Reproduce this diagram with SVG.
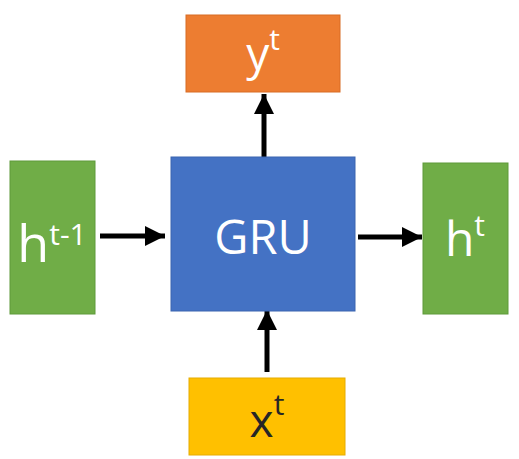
<svg xmlns="http://www.w3.org/2000/svg" width="519" height="459" viewBox="0 0 519 459">
<defs>
<style>
.lbl{font-family:"Open Sans","Liberation Sans",sans-serif;fill:#fff}
.green{fill:#70AD47;stroke:#5E9A3A;stroke-width:1}
.blue{fill:#4472C4;stroke:#3A64B0;stroke-width:1}
.orange{fill:#ED7D31;stroke:#D86C24;stroke-width:1}
.yellow{fill:#FFC000;stroke:#E6AC00;stroke-width:1}
.conn{stroke:#000;stroke-width:5;fill:none}
</style>
<marker id="ah" viewBox="0 0 10 10" refX="10" refY="5" markerWidth="4" markerHeight="4.2" orient="auto" markerUnits="strokeWidth">
<path d="M0,0 L10,5 L0,10 Z" fill="#000"/>
</marker>
</defs>
<rect width="519" height="459" fill="#fff"/>
<g id="connectors">
<line class="conn" x1="100" y1="236" x2="165" y2="236" marker-end="url(#ah)"/>
<line class="conn" x1="358" y1="237" x2="422" y2="237" marker-end="url(#ah)"/>
<line class="conn" x1="264" y1="157" x2="264" y2="94" marker-end="url(#ah)"/>
<line class="conn" x1="267" y1="372" x2="267" y2="310" marker-end="url(#ah)"/>
</g>
<g id="h_prev">
<rect class="green" x="10" y="161" width="85" height="153"/>
<text class="lbl" x="52" y="262" text-anchor="middle" font-size="52">h<tspan font-size="30" dy="-17">t-1</tspan></text>
</g>
<g id="gru">
<rect class="blue" x="171" y="157" width="184" height="154"/>
<text class="lbl" x="263" y="254" text-anchor="middle" font-size="47">GRU</text>
</g>
<g id="y_t">
<rect class="orange" x="186" y="15" width="154" height="77"/>
<text class="lbl" x="263" y="70" text-anchor="middle" font-size="46">y<tspan font-size="30" dy="-20">t</tspan></text>
</g>
<g id="h_t">
<rect class="green" x="423" y="163" width="85" height="151"/>
<text class="lbl" x="465" y="256" text-anchor="middle" font-size="48">h<tspan font-size="30" dy="-20">t</tspan></text>
</g>
<g id="x_t">
<rect class="yellow" x="189" y="378" width="156" height="77"/>
<text class="lbl" x="267" y="437" text-anchor="middle" font-size="46" style="fill:#262626">x<tspan font-size="30" dy="-22">t</tspan></text>
</g>
</svg>
